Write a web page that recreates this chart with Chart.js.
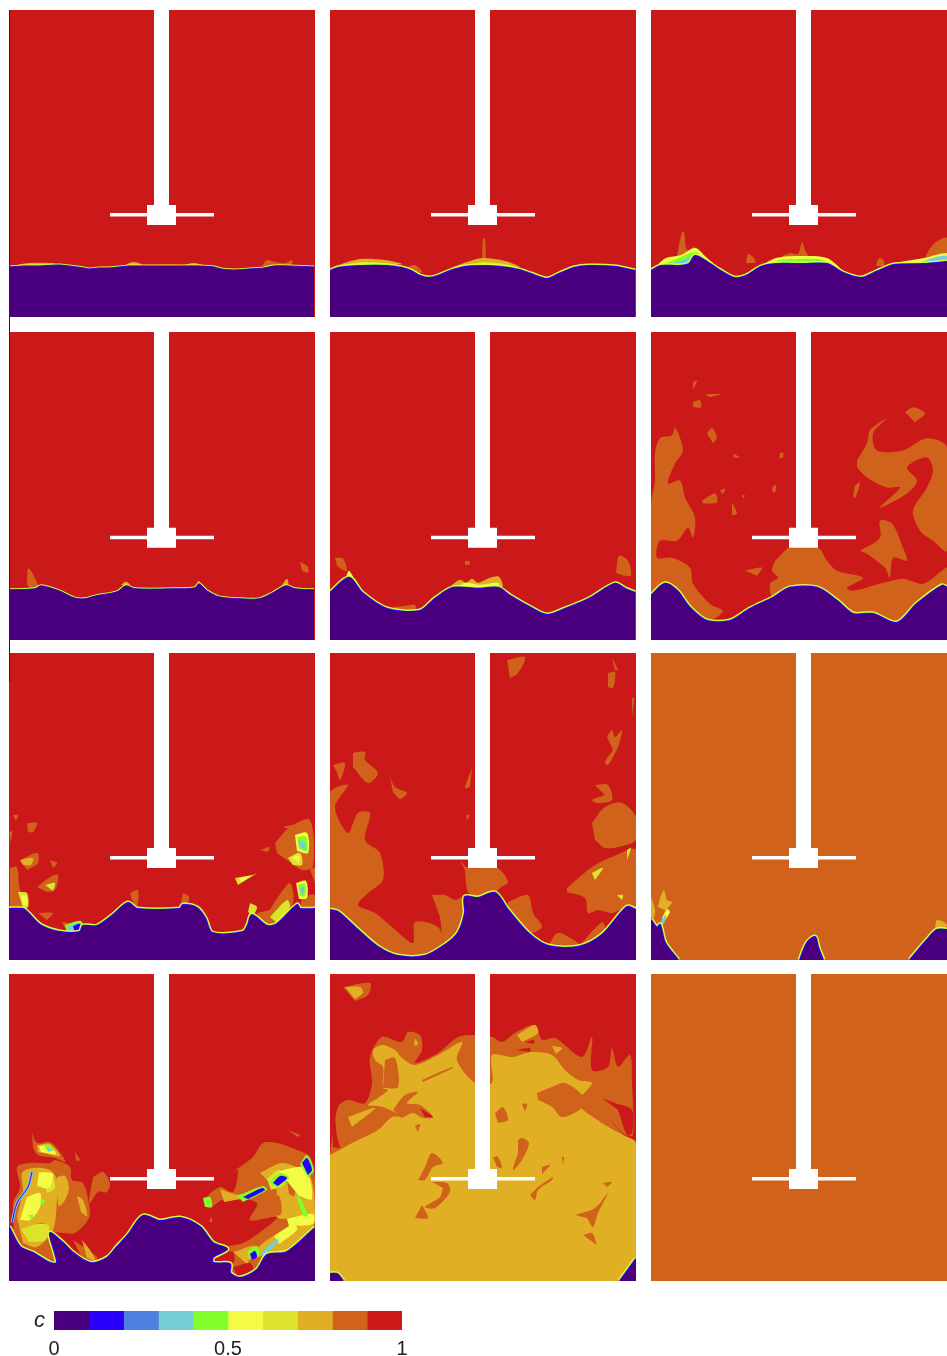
<!DOCTYPE html>
<html><head><meta charset="utf-8">
<script src="https://cdn.jsdelivr.net/npm/chart.js@4"></script>
<style>
html,body{margin:0;padding:0;background:#fff;width:947px;height:1356px;overflow:hidden}
canvas{position:absolute;display:block}
#edge{position:absolute;left:9px;top:10px;width:1px;height:672px;background:#222;z-index:5}
</style></head><body><div id="edge"></div>
<script>
/* ---------- colour scale ---------- */
const scaleValues=[0.1,0.1,0.1,0.1,0.1,0.1,0.1,0.1,0.1,0.1];
const scaleColors=['#4a007e','#2a00fb','#4f7fdf','#74ced4','#80ff2a','#f3fb45','#dbe32b','#e1af23','#d1621c','#cb1919'];
const scaleTicks=[0,0.5,1];
const scaleName=['c'];
const [PURPLE,BLUE,SKY,CYAN,GREEN,YELLOW,LEMON,GOLD,ORANGE,RED]=scaleColors;

/* ---------- impeller (tank coordinates) ---------- */
const shaft=[[145,0],[160,0],[160,196],[145,196]];
const hub=[[138,195],[167,195],[167,215],[138,215]];
const blade=[[101,203],[205,203],[205,206.5],[101,206.5]];

/* ---------- row 1 ---------- */
const iface_r1c1=[[0,257],[15,256],[30,256],[50,255],[60,256],[75,258],[80,259],[90,258],[100,258],[110,257],[120,256],[135,256],[150,256],[170,256],[190,256],[205,257],[212,259],[225,260],[240,259],[255,258],[265,256],[280,256],[305,257]];
const orange_r1c1=[[[253,256],[258,250],[266,252],[276,253],[283,250],[283,256]],[[132,255],[171,255],[171,257],[132,257]]];
const gold_r1c1=[[[2,256],[20,253],[42,253],[50,255],[40,257],[2,257]],[[114,256],[124,252],[132,254],[132,257],[114,257]],[[171,256],[185,253],[195,256],[180,257]]];
const green_r1c1=[[[15,255],[30,255],[30,257],[15,257]],[[175,255],[188,255],[188,257],[175,257]]];

const iface_r1c2=[[0,261],[8,258],[32,256],[57,256],[72,258],[81,261],[90,266],[99,268],[108,266],[120,261],[135,257],[153,256],[171,257],[189,260],[201,264],[217,269],[229,264],[244,258],[259,256],[286,257],[305,261]];
const orange_r1c2=[[[152,252],[153,229],[155,229],[156,252]],[[75,258],[85,255],[92,262],[80,262]]];
const gold_r1c2=[[[5,256],[30,249],[55,250],[72,254],[60,255],[30,254]],[[120,258],[140,251],[153,248],[175,251],[190,257],[170,255],[140,255]]];
const lemon_r1c2=[[[12,255],[32,252],[55,253],[70,257],[32,256]],[[125,258],[153,252],[175,254],[190,259],[153,256]]];

const iface_r1c3=[[0,261],[10,256],[28,256],[38,254],[44,246],[53,250],[68,260],[83,268],[95,266],[110,257],[125,254],[152,254],[176,254],[192,263],[210,268],[225,262],[243,255],[273,254],[296,252]];
const orange_r1c3=[[[26,246],[31,222],[33,222],[36,240],[44,236],[38,248]],[[95,253],[97,244],[103,248],[105,253]],[[131,246],[140,243],[147,244],[151,232],[154,240],[158,250],[131,250]],[[225,256],[228,248],[233,251],[233,256]],[[273,250],[278,240],[285,232],[296,228],[296,245]]];
const yellow_r1c3=[[[5,256],[15,248],[30,245],[44,238],[55,247],[68,260],[44,252],[20,256]],[[108,257],[125,248],[150,246],[176,248],[190,260],[165,252],[125,252]],[[243,253],[273,248],[296,243],[296,249],[273,252],[250,257]]];
const green_r1c3=[[[10,255],[25,249],[44,242],[54,249],[64,258],[40,256],[25,254]],[[115,257],[128,250],[150,249],[172,250],[186,260],[165,255],[128,255]]];
const cyan_r1c3=[[[16,254],[30,251],[44,245],[50,252],[48,256],[35,256]],[[125,254],[150,251],[172,252],[176,254]],[[270,252],[285,247],[296,246],[296,251],[273,254]]];

/* ---------- row 2 ---------- */
const iface_r2c1=[[0,257],[26,256],[32,253],[50,258],[65,265],[75,266],[87,263],[108,259],[117,253],[126,256],[165,256],[186,255],[190,251],[198,258],[210,264],[232,266],[250,266],[262,261],[277,253],[286,256],[305,257]];
const orange_r2c1=[[[291,229],[299,234],[299,240],[293,238]],[[126,255],[165,255],[165,257],[126,257]],[[18,252],[19,236],[22,238],[28,250],[30,256],[22,256]]];
const gold_r2c1=[[[112,252],[117,249],[121,252],[118,254]],[[186,254],[190,248],[193,254]],[[272,254],[278,246],[280,254]]];

const iface_r2c2=[[0,260],[19,245],[32,260],[57,276],[90,278],[105,266],[123,255],[147,256],[168,255],[180,263],[201,275],[217,282],[235,276],[259,266],[285,251],[295,256],[305,260]];
const orange_r2c2=[[[5,225],[13,226],[17,238],[11,236],[7,233]],[[286,240],[289,223],[298,228],[301,243],[294,243]],[[135,228],[140,229],[139,232],[135,232]],[[63,274],[75,273],[85,272],[85,279],[65,279]]];
const gold_r2c2=[[[122,252],[130,247],[136,250],[142,246],[148,250],[160,245],[169,244],[172,255],[122,256]]];
const yellow_r2c2=[[[15,248],[19,238],[26,252],[19,250]],[[125,256],[135,250],[150,252],[168,250],[170,256]]];
const cyan_r2c2=[[[14,252],[19,244],[24,254],[19,256]],[[130,256],[168,254],[168,257],[130,257]]];

const iface_r2c3=[[0,263],[14,251],[26,258],[39,275],[56,288],[79,288],[99,276],[122,265],[139,255],[166,255],[186,268],[202,281],[222,281],[246,290],[266,271],[291,253],[296,255]];
const orange_r2c3=[
[[0,263],[0,171],[4,148],[4,121],[9,106],[21,103],[24,95],[32,118],[24,131],[17,151],[29,148],[34,165],[44,185],[42,205],[37,195],[26,208],[9,208],[6,225],[21,225],[39,235],[42,251],[59,271],[72,278],[56,288],[39,275],[26,258],[14,251]],
[[137,215],[167,215],[176,228],[186,238],[212,245],[196,255],[202,258],[229,251],[252,246],[272,251],[291,238],[296,235],[296,255],[291,253],[266,271],[246,290],[222,281],[202,281],[186,268],[166,255],[139,255],[122,265],[119,251],[127,245],[121,238],[124,228]],
[[206,128],[216,111],[219,98],[236,86],[222,101],[226,118],[252,118],[276,106],[296,115],[296,218],[282,208],[269,198],[262,178],[276,155],[282,138],[276,125],[256,135],[266,148],[256,161],[229,175],[249,155],[236,155],[216,145],[206,135]],
[[209,218],[229,205],[229,188],[241,191],[252,215],[256,228],[242,225],[239,245],[234,235],[216,221]],
[[254,80],[262,75],[274,81],[264,90]],[[56,101],[61,96],[66,105],[62,111]],[[42,70],[49,68],[50,75],[42,75]],
[[51,168],[64,161],[66,170],[52,171]],[[81,170],[86,181],[81,183]],[[54,62],[69,62],[59,65]],
[[122,153],[125,153],[124,160],[121,159]],[[82,121],[89,125],[83,125]],[[94,238],[111,235],[106,243]],
[[42,50],[46,48],[42,58]],[[129,121],[132,120],[132,125],[128,125]],[[69,158],[74,156],[72,162]],[[91,163],[94,163],[92,166]],[[204,153],[209,150],[204,166],[202,163]]];

/* ---------- row 3 ---------- */
const iface_r3c1=[[0,256],[14,256],[19,260],[31,272],[51,279],[71,279],[74,273],[88,273],[104,262],[119,250],[128,256],[171,256],[174,252],[188,255],[196,265],[203,280],[234,279],[239,272],[243,262],[258,273],[268,271],[288,252],[291,256],[306,256]];
const orange_r3c1=[
[[1,215],[8,214],[11,237],[18,244],[19,254],[1,255]],[[11,207],[28,200],[29,210],[18,217]],[[18,170],[28,170],[24,179],[19,179]],
[[41,207],[48,210],[44,215]],[[28,234],[41,224],[49,222],[46,237],[38,239]],[[29,260],[44,260],[38,267]],[[53,269],[71,272],[56,275]],
[[121,240],[129,237],[128,254],[123,247]],[[266,190],[281,174],[301,167],[304,214],[293,217],[278,207],[268,200]],
[[251,197],[261,194],[259,199]],[[274,174],[284,172],[283,177]],[[261,257],[269,244],[281,230],[284,250],[268,270],[254,272],[248,260]],
[[293,244],[306,242],[306,255],[291,255]],[[301,217],[306,215],[306,230]],[[0,180],[3,178],[2,190]],[[4,162],[9,162],[7,168]],[[174,240],[180,244],[176,256],[172,250]]];
const gold_r3c1=[[[11,207],[24,205],[22,212],[14,212]]];
const lemon_r3c1=[[[226,225],[243,222],[248,220],[229,232]],[[9,239],[18,240],[19,254],[14,255]],[[279,205],[291,200],[293,212],[284,212]],[[241,250],[248,254],[244,262],[239,259]],[[261,264],[278,247],[281,254],[268,270]],[[36,232],[46,230],[44,238]]];
const yellow_r3c1=[[[230,225],[242,223],[232,229]],[[12,242],[17,243],[18,252],[14,252]],[[283,204],[290,203],[290,210]],[[286,182],[298,180],[299,200],[288,198]],[[287,230],[297,228],[298,245],[290,246]]];
const green_r3c1=[[[288,184],[297,184],[298,198],[290,196]],[[289,232],[296,231],[296,243],[291,243]],[[56,272],[72,268],[74,279],[58,281]]];
const cyan_r3c1=[[[289,187],[296,190],[296,197],[291,194]],[[291,235],[295,234],[295,241],[292,241]],[[58,274],[70,270],[72,278],[60,280]]];
const blue_r3c1=[[[64,273],[71,271],[73,279],[66,280]]];

const iface_r3c2=[[0,257],[8,259],[28,277],[48,294],[68,303],[95,303],[115,292],[128,280],[135,260],[135,244],[148,245],[165,240],[178,257],[198,280],[218,293],[248,294],[272,282],[297,254],[306,257]];
const orange_r3c2=[
[[0,257],[0,140],[18,132],[5,154],[18,180],[28,160],[40,160],[35,187],[50,200],[53,227],[38,240],[28,252],[45,260],[62,274],[83,290],[85,269],[108,274],[113,292],[95,303],[68,303],[48,294],[28,277],[8,259]],
[[102,242],[115,242],[125,247],[133,244],[135,260],[128,280],[115,292],[110,264]],
[[130,207],[138,215],[167,215],[178,229],[170,235],[165,240],[148,245],[138,239],[135,217]],
[[178,249],[198,242],[203,260],[212,274],[198,280],[178,257]],[[218,293],[228,280],[248,290],[248,294]],[[248,294],[272,269],[275,274],[272,282]],
[[237,235],[262,214],[282,204],[306,197],[306,257],[297,254],[282,260],[268,257],[258,260],[255,245],[237,239]],
[[262,170],[275,154],[292,150],[306,164],[306,187],[288,194],[275,195],[265,187]],[[265,132],[278,132],[282,147],[268,150],[262,147],[275,142]],
[[177,7],[195,4],[188,20],[180,25]],[[277,84],[282,77],[285,84],[292,77],[288,94],[278,112],[275,109],[283,97]],
[[278,20],[285,19],[283,35],[278,34]],[[282,5],[288,17],[285,17]],[[302,45],[304,45],[302,64]],
[[23,100],[35,99],[35,107],[48,120],[38,130],[23,114]],[[3,112],[15,110],[10,127],[7,119]],[[60,124],[65,134],[77,140],[70,146],[63,139]],
[[142,115],[135,135],[140,134]],[[137,162],[140,162],[136,168]]];
const lemon_r3c2=[[[262,220],[273,215],[265,227]],[[297,197],[301,195],[297,207]],[[287,242],[293,242],[292,247]]];

const iface_r3c3a=[[0,267],[6,275],[9,272],[14,290],[27,307]];
const iface_r3c3b=[[149,307],[156,290],[164,284],[167,294],[172,307]];
const iface_r3c3c=[[259,307],[276,287],[286,277],[296,277]];
const gold_r3c3=[[[9,245],[13,237],[16,247],[21,249],[17,255],[14,257],[7,254]],[[0,244],[4,257],[2,267],[0,264]],[[284,276],[286,267],[296,272],[286,282]]];
const yellow_r3c3=[[[11,265],[16,256],[19,259],[12,270]]];
const cyan_r3c3=[[[9,270],[14,262],[15,265],[11,274]]];

/* ---------- row 4 ---------- */
const iface_r4c1=[[0,253],[11,273],[24,279],[41,289],[48,289],[46,279],[41,259],[54,269],[63,278],[81,289],[98,284],[108,273],[119,261],[134,242],[151,247],[171,244],[191,253],[204,269],[218,275],[204,283],[204,289],[221,290],[221,299],[231,304],[248,296],[258,281],[278,278],[306,254]];
const orange_r4c1=[
[[6,243],[4,229],[11,213],[8,193],[21,189],[41,189],[46,186],[61,193],[63,206],[74,209],[81,236],[79,246],[66,259],[54,259],[41,259],[46,279],[48,289],[41,289],[24,278],[11,273],[4,256]],
[[23,159],[28,169],[41,168],[53,181],[56,188],[46,184],[29,181],[24,174]],
[[84,203],[94,198],[101,209],[98,218],[89,218],[81,229],[80,225]],
[[194,226],[211,213],[224,218],[229,196],[224,198],[244,183],[254,169],[268,169],[288,176],[301,183],[306,206],[306,254],[278,278],[258,281],[248,296],[231,304],[221,299],[221,290],[211,289],[204,283],[213,274],[234,269],[254,256],[268,243],[241,246],[248,229],[218,224],[201,234]],
[[278,156],[291,161],[289,163]],[[66,178],[71,186],[67,187]],[[200,247],[203,243],[203,249]],[[64,266],[88,283],[84,289],[72,282]]];
const gold_r4c1=[
[[8,243],[14,216],[13,199],[24,194],[41,196],[48,206],[48,226],[44,256],[28,273],[14,269]],
[[251,199],[274,189],[301,203],[306,239],[304,253],[278,276],[261,279],[238,286],[254,269],[278,253],[284,246],[268,243],[268,216]],
[[28,171],[41,170],[51,182],[38,180],[29,178]],[[73,266],[81,276],[86,286],[78,284]],[[211,215],[225,220],[245,222],[215,228]],[[224,278],[246,272],[238,290]],[[48,203],[56,202],[60,214],[56,226],[50,232],[48,218]],[[68,222],[74,226],[78,242],[72,238]]];
const islands_r4c1=[[[19,253],[34,249],[33,261],[21,261]],[[40,265],[46,262],[48,282],[44,284]],[[260,225],[270,222],[272,240],[262,242]],[[278,205],[288,205],[285,222],[280,220]]];
const red_r4c1=[[[224,293],[241,289],[244,296],[228,303]],[[204,279],[224,278],[224,289],[206,289]]];
const lemon_r4c1=[[[12,255],[28,250],[40,252],[36,266],[20,268]],[[33,201],[43,203],[46,214],[38,219]],[[258,205],[270,196],[276,210],[262,216]]];
const yellow_r4c1=[[[18,223],[31,219],[31,233],[21,246],[11,246]],[[30,198],[44,200],[40,214],[28,212]],[[270,197],[296,194],[303,225],[290,222]],[[278,245],[304,240],[304,250],[280,252]],[[30,172],[40,172],[47,180],[32,178]],[[265,262],[285,250],[288,256],[270,270]]];
const green_r4c1=[[[19,241],[24,241],[23,246]],[[31,226],[36,226],[34,231]],[[35,171],[41,171],[44,177],[38,177]],[[194,224],[201,223],[203,233],[196,233]],[[287,222],[291,224],[299,242],[294,242]],[[228,222],[254,212],[258,216],[234,228]],[[260,208],[272,199],[280,204],[268,214]],[[291,190],[298,181],[305,196],[299,204]],[[238,277],[248,272],[250,282],[240,284]]];
const cyan_r4c1=[[[38,173],[43,176],[39,178]],[[252,279],[268,265],[270,267],[254,282]]];
const blue_r4c1=[[[234,223],[253,214],[256,216],[239,225]],[[264,209],[271,202],[278,204],[269,212]],[[293,189],[298,184],[303,196],[299,201]],[[241,280],[246,277],[248,283],[243,286]]];
const streakCyan_r4c1=[[23,198],[19,213],[8,229],[3,249]];

const iface_r4c2a=[[0,300],[7,300],[13,307]];
const iface_r4c2b=[[290,307],[306,285]];
const orange_r4c2=[
[[0,181],[8,133],[18,126],[35,129],[42,109],[40,83],[52,63],[72,68],[78,58],[90,61],[92,76],[85,89],[108,79],[128,63],[145,61],[162,63],[172,68],[185,59],[205,51],[212,66],[225,64],[252,83],[262,63],[262,96],[278,93],[282,74],[288,93],[300,81],[302,109],[303,161],[295,161],[282,148],[306,181],[306,307],[0,307]],
[[13,13],[40,9],[38,21],[25,27]]];
const gold_r4c2=[
[[0,181],[28,166],[48,156],[62,143],[72,143],[53,133],[38,131],[48,124],[58,116],[53,114],[53,93],[45,86],[43,76],[52,71],[65,76],[72,84],[85,91],[108,81],[132,68],[127,86],[145,109],[162,109],[162,81],[182,83],[202,78],[222,81],[235,96],[248,106],[262,109],[248,129],[272,149],[293,161],[306,169],[306,307],[0,307]],
[[15,13],[30,13],[33,19],[25,25]],[[187,61],[205,51],[208,59],[192,68]],[[18,143],[45,134],[22,153]],[[85,64],[88,70],[84,72]],[[222,72],[232,74],[226,80]]];
const islands_r4c2=[
[[207,119],[222,113],[235,109],[255,124],[252,134],[232,143],[222,133],[208,126]],[[165,139],[173,133],[178,146],[168,149]],
[[188,166],[192,164],[199,169],[192,186],[183,196],[188,179]],[[163,183],[168,183],[172,194],[167,193]],
[[95,193],[102,179],[113,189],[103,193],[95,206],[88,206]],[[102,208],[117,209],[120,218],[105,234],[95,233],[110,223],[113,214]],
[[92,231],[98,244],[85,244]],[[208,213],[223,203],[222,206],[208,216],[205,226],[200,221]],[[245,241],[265,234],[278,219],[268,239],[263,253],[257,244]],
[[253,261],[262,259],[267,271]],[[273,209],[282,208],[277,213]],[[212,193],[220,191],[212,200]],[[232,183],[234,183],[233,191]],
[[63,136],[75,121],[88,118],[77,129],[90,131],[103,143],[93,144],[83,139],[72,144]],[[55,86],[65,84],[68,113],[53,114]],[[92,106],[122,93],[123,94],[93,108]],
[[85,152],[90,150],[88,158]],[[192,130],[197,130],[195,138]]];
const red_r4c2=[[[90,134],[103,143],[95,143]],[[272,124],[285,129],[302,136],[302,159],[297,161],[288,136]],[[3,113],[7,163],[10,174],[3,173]],[[186,76],[200,74],[200,78]],[[195,68],[204,66],[204,70]]];

/* ---------- panel layout and layers ---------- */
const columnLeft=[9,330,651];
const columnWidth=[306,306,296];
const rowTop=[10,332,653,974];
const rowHeight=[307,308,307,307];
const tankHeight=307;
const curve=0.3;
const thinBand=[3,2,1], midBand=[5,3,2];
const bandColors=[YELLOW,GREEN,BLUE];
const panelTable=[
 {bg:RED,orange:orange_r1c1,gold:gold_r1c1,green:green_r1c1,iface:[iface_r1c1],band:thinBand},
 {bg:RED,orange:orange_r1c2,gold:gold_r1c2,lemon:lemon_r1c2,iface:[iface_r1c2],band:midBand},
 {bg:RED,orange:orange_r1c3,yellow:yellow_r1c3,green:green_r1c3,cyan:cyan_r1c3,iface:[iface_r1c3],band:midBand},
 {bg:RED,orange:orange_r2c1,gold:gold_r2c1,iface:[iface_r2c1],band:thinBand},
 {bg:RED,orange:orange_r2c2,gold:gold_r2c2,yellow:yellow_r2c2,cyan:cyan_r2c2,iface:[iface_r2c2],band:midBand},
 {bg:RED,orange:orange_r2c3,iface:[iface_r2c3],band:midBand},
 {bg:RED,orange:orange_r3c1,gold:gold_r3c1,lemon:lemon_r3c1,yellow:yellow_r3c1,green:green_r3c1,cyan:cyan_r3c1,blue:blue_r3c1,iface:[iface_r3c1],band:midBand},
 {bg:RED,orange:orange_r3c2,lemon:lemon_r3c2,iface:[iface_r3c2],band:midBand},
 {bg:ORANGE,gold:gold_r3c3,yellow:yellow_r3c3,cyan:cyan_r3c3,iface:[iface_r3c3a,iface_r3c3b,iface_r3c3c],band:midBand},
 {bg:RED,orange:orange_r4c1,gold:gold_r4c1,islands:islands_r4c1,red:red_r4c1,lemon:lemon_r4c1,yellow:yellow_r4c1,green:green_r4c1,cyan:cyan_r4c1,blue:blue_r4c1,streak:streakCyan_r4c1,iface:[iface_r4c1],band:midBand},
 {bg:RED,orange:orange_r4c2,gold:gold_r4c2,islands:islands_r4c2,red:red_r4c2,iface:[iface_r4c2a,iface_r4c2b],band:midBand},
 {bg:ORANGE,iface:[],band:thinBand}
];

const toPts=a=>a.map(([x,y])=>({x,y}));
function polygonSet(points,color,tension){
  return {type:'scatter',showLine:true,data:toPts(points),fill:'shape',backgroundColor:color,borderColor:color,borderWidth:0,pointRadius:0,pointHoverRadius:0,tension};
}
function lineSet(points,color,width){
  return {type:'scatter',showLine:true,data:toPts(points),fill:false,borderColor:color,backgroundColor:color,borderWidth:width,borderJoinStyle:'round',pointRadius:0,pointHoverRadius:0,tension:curve};
}
function makeCanvas(left,top,w,h){
  const c=document.createElement('canvas');
  c.width=w;c.height=h;
  c.style.cssText=`left:${left}px;top:${top}px;width:${w}px;height:${h}px`;
  document.body.appendChild(c);
  return c;
}
panelTable.forEach((p,i)=>{
  const col=i%3,row=Math.floor(i/3),W=columnWidth[col];
  const sets=[polygonSet([[0,0],[W,0],[W,tankHeight],[0,tankHeight]],p.bg,0)];
  const add=(polys,color)=>{(polys||[]).forEach(q=>sets.push(polygonSet(q,color,curve)));};
  add(p.orange,ORANGE);add(p.gold,GOLD);add(p.islands,ORANGE);add(p.red,RED);
  add(p.lemon,LEMON);add(p.yellow,YELLOW);add(p.green,GREEN);add(p.cyan,CYAN);add(p.blue,BLUE);
  if(p.streak){sets.push(lineSet(p.streak,CYAN,3));sets.push(lineSet(p.streak,BLUE,1));}
  p.iface.forEach(line=>{p.band.forEach((w,k)=>sets.push(lineSet(line,bandColors[k],w)));});
  p.iface.forEach(line=>{
    const last=line[line.length-1],first=line[0];
    const a=[last[0],tankHeight],b=[first[0],tankHeight];
    sets.push(polygonSet(line.concat([last,a,a,b,b,first]),PURPLE,curve));
  });
  [shaft,hub,blade].forEach(q=>sets.push(polygonSet(q,'#ffffff',0)));
  sets.forEach((s,k)=>{s.order=-k;});
  new Chart(makeCanvas(columnLeft[col],rowTop[row],W,rowHeight[row]),{
    type:'scatter',
    data:{datasets:sets},
    options:{responsive:false,animation:false,devicePixelRatio:1,
      layout:{padding:0},
      plugins:{legend:{display:false},tooltip:{enabled:false}},
      events:[],
      scales:{
        x:{type:'linear',display:false,min:0,max:W},
        y:{type:'linear',display:false,min:0,max:tankHeight,reverse:true}
      }}
  });
});

/* ---------- colour bar ---------- */
new Chart(makeCanvas(20,1300,400,56),{
  type:'bar',
  data:{labels:scaleName,datasets:scaleValues.map((v,i)=>({data:[v],backgroundColor:scaleColors[i],borderWidth:0,barPercentage:1,categoryPercentage:1}))},
  options:{indexAxis:'y',responsive:false,animation:false,devicePixelRatio:1,events:[],
    layout:{padding:{top:11,right:18,left:0,bottom:0}},
    plugins:{legend:{display:false},tooltip:{enabled:false}},
    scales:{
      x:{type:'linear',stacked:true,min:0,max:1,position:'bottom',
        afterBuildTicks:s=>{s.ticks=scaleTicks.map(value=>({value}));},
        afterFit:s=>{s.height=26;s.paddingLeft=0;s.paddingRight=0;},
        grid:{display:false,drawTicks:false},border:{display:false},
        ticks:{padding:7,maxRotation:0,color:'#222',font:{family:'"Liberation Sans"',size:20},callback:v=>String(v)}},
      y:{type:'category',stacked:true,
        afterFit:s=>{s.width=34;s.paddingTop=0;s.paddingBottom=0;},
        grid:{display:false,drawTicks:false},border:{display:false},
        ticks:{padding:9,color:'#222',font:{family:'"Liberation Sans"',size:22,style:'italic'}}}
    }}
});
</script></body></html>
